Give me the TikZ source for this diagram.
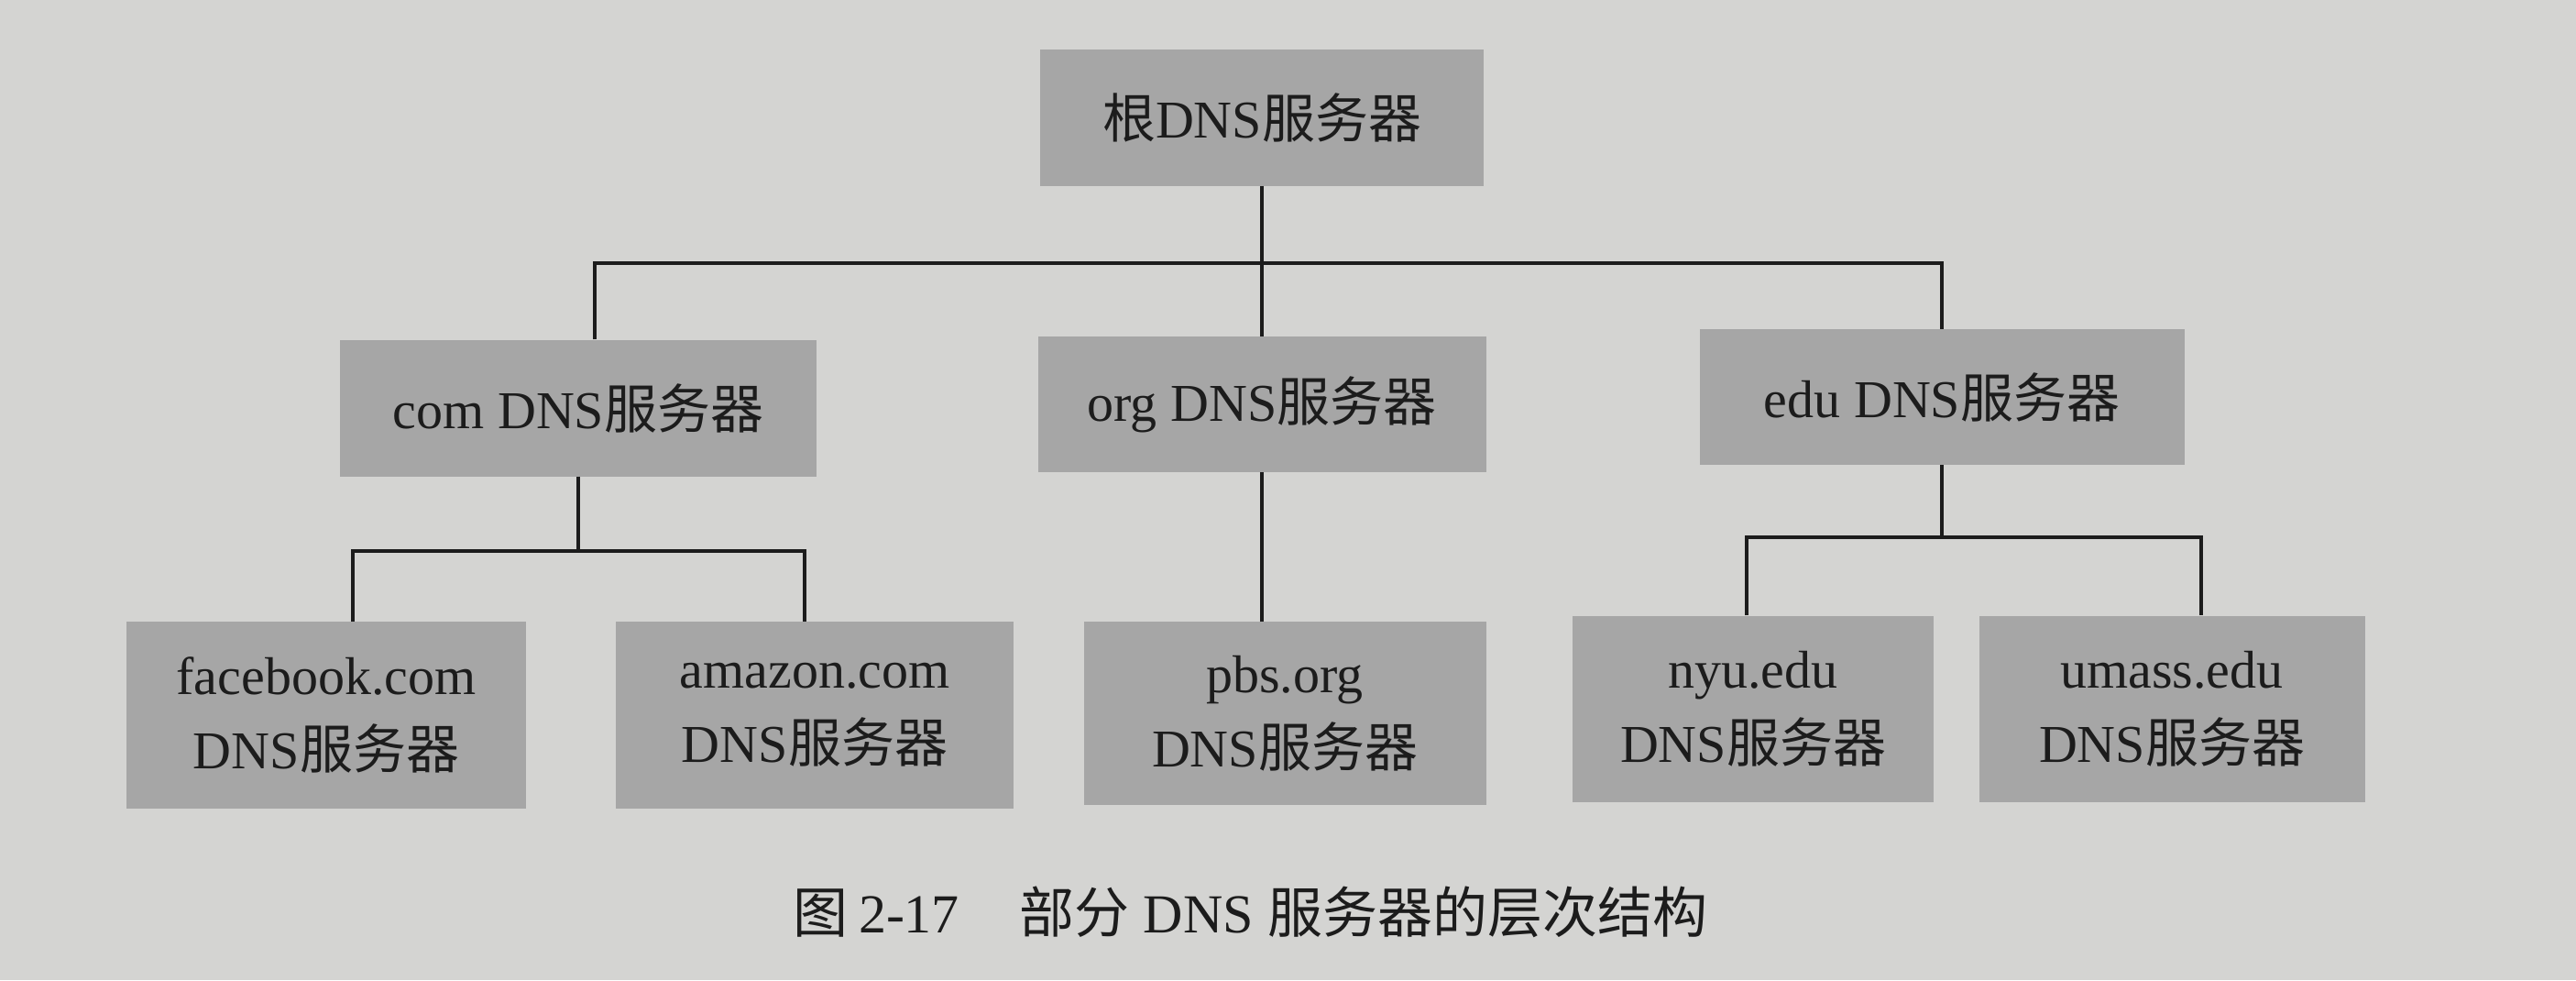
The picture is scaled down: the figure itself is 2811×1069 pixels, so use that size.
\documentclass[tikz,border=0pt]{standalone}
\usepackage{fontspec}
\setmainfont{Liberation Serif}
\newfontfamily\cjk{Noto Sans CJK SC}
\definecolor{bgcol}{RGB}{212,212,210}
\definecolor{boxcol}{RGB}{166,166,166}
\definecolor{inkcol}{RGB}{28,28,28}
\begin{document}
\begin{tikzpicture}[x=1pt,y=-1pt,
  srv/.style={fill=boxcol,draw=none,inner sep=0pt,align=center,text=inkcol,
    font=\fontsize{58}{81}\selectfont},
  link/.style={draw=inkcol,line width=3.6pt}]
\fill[bgcol] (0,0) rectangle (2811,1069);
\useasboundingbox (0,0) rectangle (2811,1069);
% level 0
\node[srv,minimum width=484,minimum height=149] (root) at (1377,128) {{\cjk 根}DNS{\cjk 服务器}};
% level 1
\node[srv,minimum width=520,minimum height=149] (com) at (631,445) {com DNS{\cjk 服务器}};
\node[srv,minimum width=489,minimum height=148] (org) at (1377,441) {org DNS{\cjk 服务器}};
\node[srv,minimum width=529,minimum height=148] (edu) at (2119,433) {edu DNS{\cjk 服务器}};
% level 2
\node[srv,minimum width=436,minimum height=204] (fb) at (356,780) {facebook.com\\DNS{\cjk 服务器}};
\node[srv,minimum width=434,minimum height=204] (amz) at (889,780) {amazon.com\\DNS{\cjk 服务器}};
\node[srv,minimum width=439,minimum height=200] (pbs) at (1402,778) {pbs.org\\DNS{\cjk 服务器}};
\node[srv,minimum width=394,minimum height=203] (nyu) at (1913,773) {nyu.edu\\DNS{\cjk 服务器}};
\node[srv,minimum width=421,minimum height=203] (uma) at (2370,773) {umass.edu\\DNS{\cjk 服务器}};
% buses
\coordinate (bus0) at (1377,287);
\coordinate (bus1) at (631,601);
\coordinate (bus2) at (2119,586);
% connectors
\draw[link] (root.south) -- (bus0);
\draw[link] ([xshift=18pt]com.north) |- (bus0) -| (edu.north);
\draw[link] (org.north) -- (org.north |- bus0);
\draw[link] (org.south) -- (org.south |- pbs.north);
\draw[link] (com.south) -- (bus1);
\draw[link] ([xshift=29pt]fb.north) |- (bus1) -| ([xshift=-11pt]amz.north);
\draw[link] (edu.south) -- (bus2);
\draw[link] ([xshift=-7pt]nyu.north) |- (bus2) -| ([xshift=32pt]uma.north);
% caption
\node[text=inkcol,font=\fontsize{60}{72}\selectfont,inner sep=0pt] (cap) at (1364,995)
  {{\cjk 图}\hspace{0.2em}2-17\hspace{1.1em}{\cjk 部分}\hspace{0.25em}DNS\hspace{0.25em}{\cjk 服务器的层次结构}};
\end{tikzpicture}
\end{document}
